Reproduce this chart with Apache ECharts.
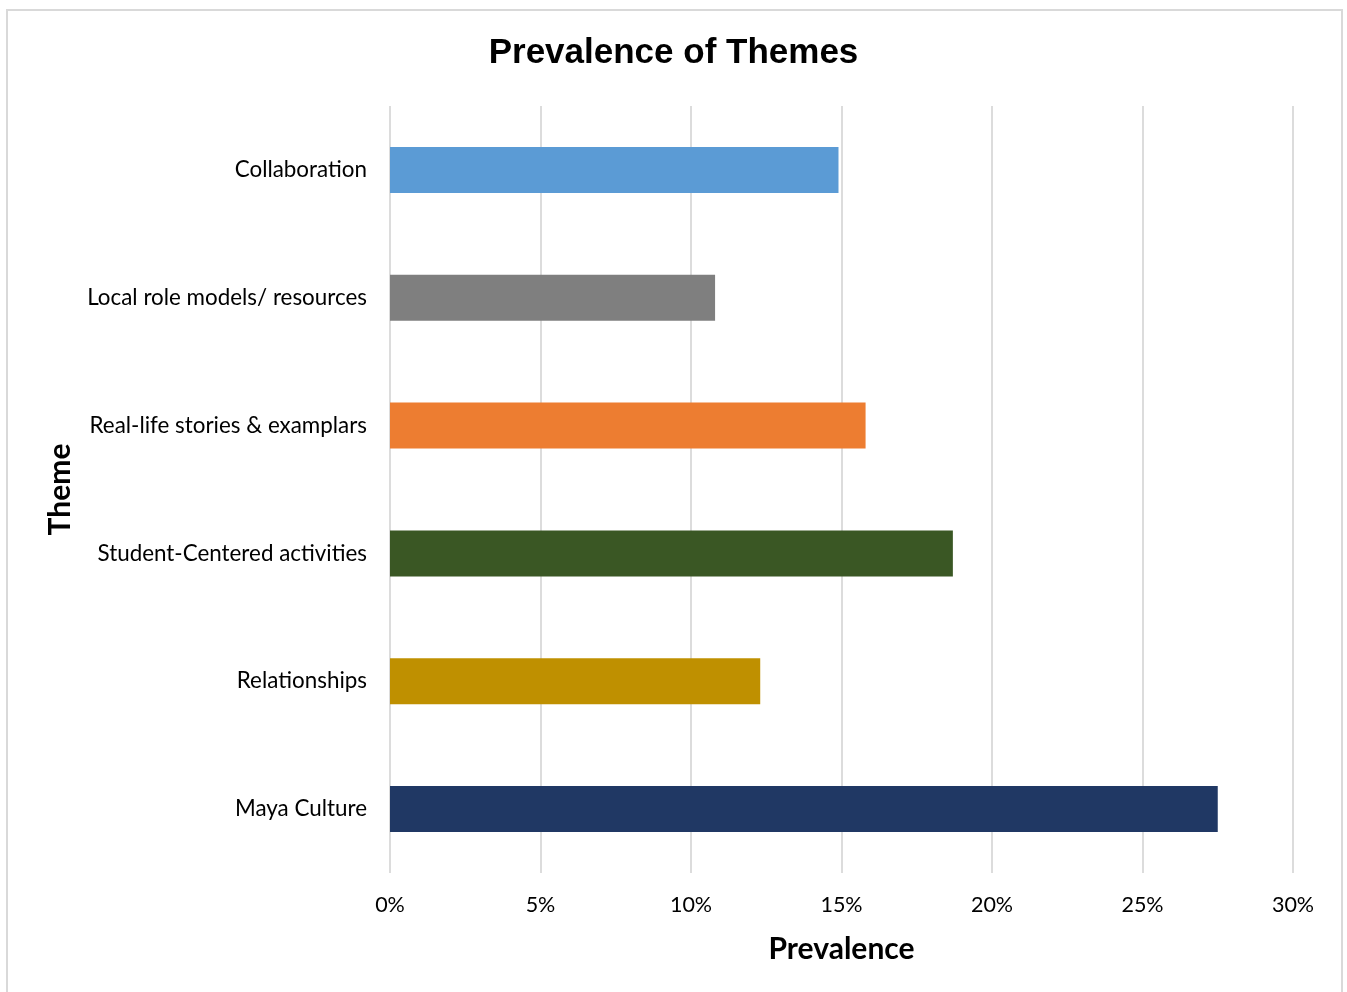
<!DOCTYPE html>
<html>
<head>
<meta charset="utf-8">
<script src="https://cdn.jsdelivr.net/npm/echarts@6/dist/echarts.min.js"></script>
<style>html,body{margin:0;padding:0;background:#fff;}#c{width:1347px;height:992px;}</style>
</head>
<body>
<div id="c"></div>
<script>
const categories = ["Collaboration", "Local role models/ resources", "Real-life stories & examplars", "Student-Centered activities", "Relationships", "Maya Culture"];
const prevalence = [14.9, 10.8, 15.8, 18.7, 12.3, 27.5];
const barColors = ["#5B9BD5", "#7F7F7F", "#ED7D31", "#3A5724", "#BF9000", "#203864"];
const xTicks = [0, 5, 10, 15, 20, 25, 30];

const chart = echarts.init(document.getElementById('c'), null, {renderer: 'canvas'});
chart.setOption({
  backgroundColor: '#fff',
  animation: false,
  title: {
    text: 'Prevalence of Themes',
    left: 'center',
    top: 31,
    textStyle: {fontFamily: 'Liberation Sans', fontSize: 35, fontWeight: 'bold', color: '#000'}
  },
  graphic: [{
    type: 'rect', shape: {x: 7, y: 10, width: 1335, height: 1000},
    style: {fill: 'none', stroke: '#d9d9d9', lineWidth: 2}, silent: true
  }],
  grid: {left: 390, right: 54, top: 106, bottom: 119, containLabel: false},
  xAxis: {
    type: 'value', min: xTicks[0], max: xTicks[xTicks.length - 1], interval: 5,
    name: 'Prevalence', nameLocation: 'middle', nameGap: 61,
    nameTextStyle: {fontFamily: 'Lato', fontWeight: 'bold', fontSize: 30, color: '#000'},
    axisLine: {show: false}, axisTick: {show: false},
    axisLabel: {formatter: '{value}%', fontFamily: 'Lato', fontSize: 21.5, color: '#000', margin: 21},
    splitLine: {show: true, lineStyle: {color: '#dcdcdc', width: 2}}
  },
  yAxis: {
    type: 'category', data: categories, inverse: true,
    name: 'Theme', nameLocation: 'middle', nameGap: 315,
    nameTextStyle: {fontFamily: 'Lato', fontWeight: 'bold', fontSize: 30, color: '#000'},
    axisLine: {show: false}, axisTick: {show: false},
    axisLabel: {fontFamily: 'Lato', fontSize: 22.4, color: '#000', margin: 23}
  },
  series: [{
    type: 'bar',
    data: prevalence.map((v, i) => ({value: v, itemStyle: {color: barColors[i]}})),
    barWidth: '36%'
  }]
});
</script>
</body>
</html>
